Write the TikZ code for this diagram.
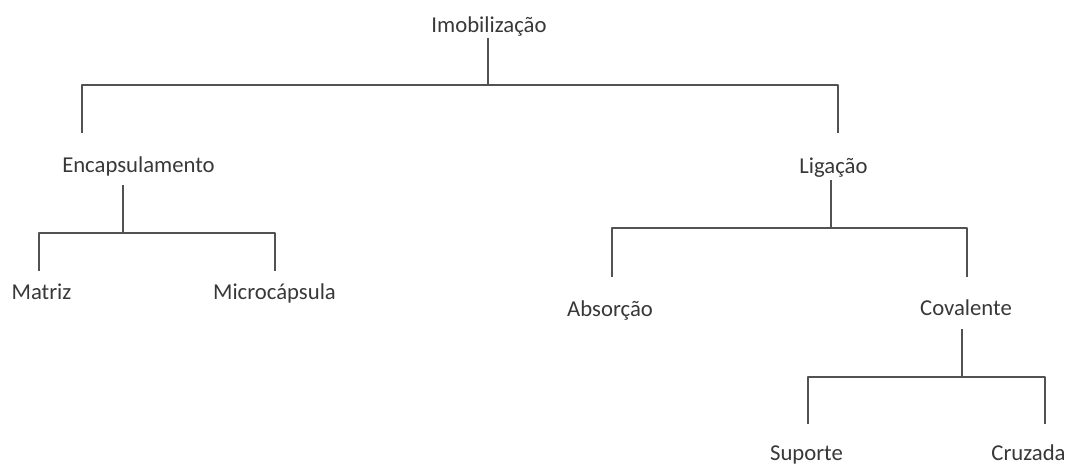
\documentclass[tikz,border=0pt]{standalone}
\usepackage{fontspec}
\setmainfont{Carlito}
\begin{document}
\begin{tikzpicture}[x=1pt,y=-1pt,
  lbl/.style={anchor=base,inner sep=0pt,text=black!78,font=\fontsize{22.7}{27}\selectfont},
  conn/.style={draw=black!68,line width=1.7pt}]
\useasboundingbox (0,0) rectangle (1075,466);
% nodes
\node[lbl] (imo) at (489,32) {Imobilização};
\node[lbl] (enc) at (138.5,172) {Encapsulamento};
\node[lbl] (lig) at (833.5,173) {Ligação};
\node[lbl] (mat) at (41.5,299) {Matriz};
\node[lbl] (mic) at (274.5,299) {Microcápsula};
\node[lbl] (abs) at (610,316) {Absorção};
\node[lbl] (cov) at (966,315) {Covalente};
\node[lbl] (sup) at (806.5,460) {Suporte};
\node[lbl] (cru) at (1028.5,460) {Cruzada};
% stem start points under parents
\coordinate (imoS) at (488,38);
\coordinate (encS) at (123,185);
\coordinate (ligS) at (831,180);
\coordinate (covS) at (962,329);
% branch end points above children
\coordinate (encT) at (82,133);
\coordinate (ligT) at (838,133);
\coordinate (matT) at (39,271);
\coordinate (micT) at (275,271);
\coordinate (absT) at (612,277);
\coordinate (covT) at (967,277);
\coordinate (supT) at (808,424);
\coordinate (cruT) at (1045,424);
% connectors
\draw[conn] (imoS) -- (imoS |- 0,85);
\draw[conn,line join=round] (encT) |- (0,85 -| ligT) -- (ligT);
\draw[conn] (encS) -- (encS |- 0,233);
\draw[conn,line join=round] (matT) |- (0,233 -| micT) -- (micT);
\draw[conn] (ligS) -- (ligS |- 0,228);
\draw[conn,line join=round] (absT) |- (0,228 -| covT) -- (covT);
\draw[conn] (covS) -- (covS |- 0,377);
\draw[conn,line join=round] (supT) |- (0,377 -| cruT) -- (cruT);
\end{tikzpicture}
\end{document}
